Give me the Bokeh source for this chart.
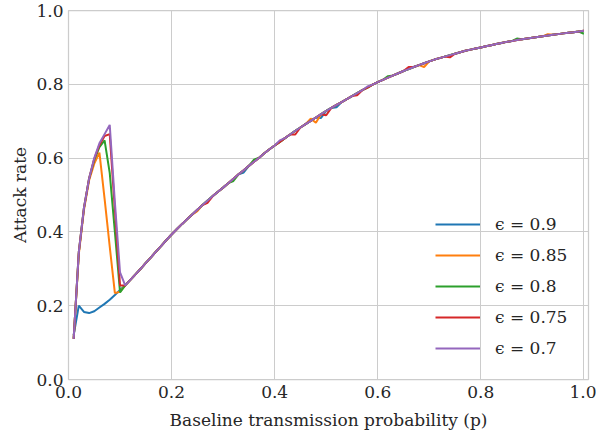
from bokeh.plotting import figure
from bokeh.models import Legend, LegendItem, FixedTicker, Range1d, PrintfTickFormatter
from bokeh.embed import file_html
from bokeh.resources import INLINE

# ---------------- data ----------------
p_vals = [0.01, 0.02, 0.03, 0.04, 0.05, 0.06, 0.07, 0.08, 0.09, 0.10,
          0.11, 0.12, 0.13, 0.14, 0.15, 0.16, 0.17, 0.18, 0.19, 0.20,
          0.21, 0.22, 0.23, 0.24, 0.25, 0.26, 0.27, 0.28, 0.29, 0.30,
          0.31, 0.32, 0.33, 0.34, 0.35, 0.36, 0.37, 0.38, 0.39, 0.40,
          0.41, 0.42, 0.43, 0.44, 0.45, 0.46, 0.47, 0.48, 0.49, 0.50,
          0.51, 0.52, 0.53, 0.54, 0.55, 0.56, 0.57, 0.58, 0.59, 0.60,
          0.61, 0.62, 0.63, 0.64, 0.65, 0.66, 0.67, 0.68, 0.69, 0.70,
          0.71, 0.72, 0.73, 0.74, 0.75, 0.76, 0.77, 0.78, 0.79, 0.80,
          0.81, 0.82, 0.83, 0.84, 0.85, 0.86, 0.87, 0.88, 0.89, 0.90,
          0.91, 0.92, 0.93, 0.94, 0.95, 0.96, 0.97, 0.98, 0.99, 1.00]

# shared curve for p = 0.11 .. 1.00
tail = [0.255, 0.270, 0.285, 0.300, 0.316, 0.331, 0.347, 0.362, 0.378, 0.393,
        0.407, 0.421, 0.434, 0.447, 0.460, 0.473, 0.485, 0.497, 0.509, 0.520,
        0.532, 0.544, 0.556, 0.567, 0.579, 0.590, 0.601, 0.613, 0.624, 0.634,
        0.644, 0.654, 0.664, 0.674, 0.683, 0.692, 0.701, 0.710, 0.719, 0.728,
        0.736, 0.744, 0.752, 0.760, 0.768, 0.776, 0.784, 0.791, 0.799, 0.806,
        0.812, 0.818, 0.824, 0.830, 0.836, 0.841, 0.847, 0.852, 0.857, 0.862,
        0.867, 0.871, 0.875, 0.879, 0.883, 0.887, 0.891, 0.894, 0.897, 0.900,
        0.903, 0.906, 0.909, 0.912, 0.915, 0.917, 0.920, 0.922, 0.924, 0.926,
        0.928, 0.930, 0.932, 0.934, 0.936, 0.938, 0.940, 0.941, 0.943, 0.945]

# p = 0.01 .. 0.10 for each epsilon
head_090 = [0.120, 0.200, 0.183, 0.180, 0.185, 0.195, 0.205, 0.216, 0.229, 0.243]
head_085 = [0.110, 0.340, 0.460, 0.540, 0.585, 0.615, 0.490, 0.360, 0.234, 0.238]
head_080 = [0.110, 0.345, 0.465, 0.545, 0.595, 0.630, 0.648, 0.560, 0.400, 0.236]
head_075 = [0.110, 0.345, 0.465, 0.545, 0.598, 0.635, 0.660, 0.665, 0.460, 0.255]
head_070 = [0.110, 0.345, 0.465, 0.545, 0.600, 0.640, 0.665, 0.690, 0.480, 0.290]

# small deviations of each run from the shared curve (p: delta)
dev_090 = {0.34: -0.006, 0.49: -0.010, 0.52: -0.006}
dev_085 = {0.25: -0.004, 0.48: -0.014, 0.47: 0.006, 0.69: -0.010, 0.93: 0.004}
dev_080 = {0.32: -0.006, 0.36: 0.006, 0.62: 0.004, 0.87: 0.004, 1.00: -0.008}
dev_075 = {0.27: -0.006, 0.44: -0.010, 0.50: -0.012, 0.56: -0.006, 0.66: 0.006, 0.74: -0.006}
dev_070 = {0.41: 0.004, 0.58: 0.003}

labels = ["ϵ = 0.9", "ϵ = 0.85", "ϵ = 0.8", "ϵ = 0.75", "ϵ = 0.7"]
colors = ["#1f77b4", "#ff7f0e", "#2ca02c", "#d62728", "#9467bd"]
heads = [head_090, head_085, head_080, head_075, head_070]
devs = [dev_090, dev_085, dev_080, dev_075, dev_070]

ticks = [0.0, 0.2, 0.4, 0.6, 0.8, 1.0]

FONT = "DejaVu Serif"
FS = "17px"
TXT = "#262626"

p = figure(width=596, height=434, output_backend="svg", toolbar_location=None,
           x_range=Range1d(0, 1.009), y_range=Range1d(0, 1.0),
           min_border_left=68, min_border_right=8, min_border_top=10, min_border_bottom=55)
p.background_fill_color = "white"
p.border_fill_color = "white"
p.outline_line_color = "#cccccc"
p.outline_line_width = 1.25

for ax in (p.xaxis[0], p.yaxis[0]):
    ax.ticker = FixedTicker(ticks=ticks)
    ax.formatter = PrintfTickFormatter(format="%.1f")
    ax.major_label_text_font = FONT
    ax.major_label_text_font_size = FS
    ax.major_label_text_color = TXT
    ax.axis_label_text_font = FONT
    ax.axis_label_text_font_size = FS
    ax.axis_label_text_font_style = "normal"
    ax.axis_label_text_color = TXT
    ax.axis_line_color = None
    ax.major_tick_line_color = None
    ax.minor_tick_line_color = None
    ax.major_tick_out = 0
    ax.major_tick_in = 0

p.xaxis.axis_label = "Baseline transmission probability (p)"
p.yaxis.axis_label = "Attack rate"
p.xaxis.major_label_standoff = 6
p.yaxis.major_label_standoff = 5
p.xaxis.axis_label_standoff = 9
p.yaxis.axis_label_standoff = 3

p.xgrid.grid_line_color = "#cccccc"
p.ygrid.grid_line_color = "#cccccc"
p.xgrid.grid_line_width = 1
p.ygrid.grid_line_width = 1

items = []
for lab, col, head, dev in zip(labels, colors, heads, devs):
    ys = list(head)
    for pv, t in zip(p_vals[len(head):], tail):
        ys.append(t + dev.get(pv, 0.0))
    r = p.line(p_vals, ys, line_color=col, line_width=2)
    items.append(LegendItem(label=lab, renderers=[r]))

legend = Legend(items=items, location=(367, 21))
legend.label_text_font = FONT
legend.label_text_font_size = FS
legend.label_text_color = TXT
legend.glyph_width = 45
legend.glyph_height = 20
legend.label_height = 20
legend.label_standoff = 15
legend.spacing = 11
legend.padding = 0
legend.margin = 0
legend.border_line_color = None
legend.background_fill_alpha = 0
p.add_layout(legend, "center")

open("out.html", "w").write(file_html(p, INLINE))
